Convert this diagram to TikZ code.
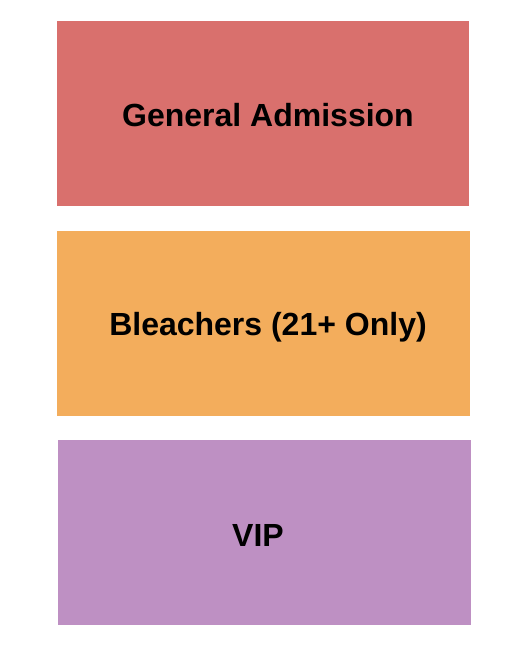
\documentclass[tikz,border=0pt]{standalone}
\usepackage{fontspec}
\setmainfont{Liberation Sans}
\usetikzlibrary{positioning}
\definecolor{gacol}{HTML}{D9706D}
\definecolor{blcol}{HTML}{F3AD5C}
\definecolor{vipcol}{HTML}{BE90C3}
\tikzset{section/.style={inner sep=0pt,outer sep=0pt},
  seclabel/.style={font=\fontsize{32}{36}\selectfont\bfseries,text=black,anchor=base,inner sep=0pt}}
\begin{document}
\begin{tikzpicture}[x=1pt,y=-1pt]
\useasboundingbox (0,0) rectangle (525,650);
% sections
\fill[gacol] (57,21) rectangle (469,206) coordinate (ga);
\fill[blcol] (57,231) rectangle (470,416) coordinate (bl);
\fill[vipcol] (58,440) rectangle (471,625) coordinate (vip);
% labels
\node[seclabel] (galbl) at (268,126) {General Admission};
\node[seclabel] (bllbl) at (268,335) {Bleachers (21+ Only)};
\node[seclabel] (viplbl) at (258,546) {VIP};
\end{tikzpicture}
\end{document}
